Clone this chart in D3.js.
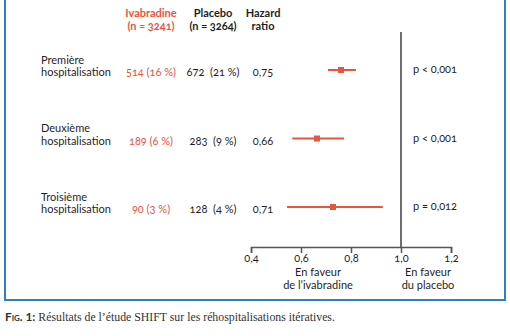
<!DOCTYPE html>
<html><head><meta charset="utf-8">
<script src="https://cdn.jsdelivr.net/npm/d3@7"></script>
<style>
body{margin:0;background:#fff;}
svg{display:block;}
text{font-family:Lato,"Noto Sans",sans-serif;font-variant-numeric:oldstyle-nums;}
</style></head>
<body>
<svg id="c" width="510" height="336"></svg>
<script>
const categories = [["Première","hospitalisation"],["Deuxième","hospitalisation"],["Troisième","hospitalisation"]];
const ivabradine = ["514 (16 %)","189 (6 %)","90 (3 %)"];
const placebo = ["672  (21 %)","283  (9 %)","128  (4 %)"];
const hrLabels = ["0,75","0,66","0,71"];
const hr = [0.76, 0.664, 0.728];
const ciLow = [0.708, 0.565, 0.544];
const ciHigh = [0.82, 0.772, 0.927];
const pValues = ["p < 0,001","p < 0,001","p = 0,012"];
const tickValues = [0.4, 0.6, 0.8, 1.0, 1.2];
const headers = [
  {lines:["Ivabradine","(n = 3241)"], col:"iva"},
  {lines:["Placebo","(n = 3264)"], col:"pla"},
  {lines:["Hazard","ratio"], col:"hr"}
];

const RED = "#e8543d", DARK = "#1f1f1f", BLUE = "#2f80c3";
const FS = 11;
const svg = d3.select("#c");
const x = d3.scaleLinear().domain([0.4,1.2]).range([251,451]);
const rows = d3.range(categories.length);
const y = d3.scalePoint().domain(rows).range([70,207]);
const colX = {iva:151, pla:213, hr:263};
const axisY = 247;

// frame
svg.append("path").attr("d","M5,0V300H505V0").attr("fill","none").attr("stroke",BLUE).attr("stroke-width",2);

// headers
headers.forEach(h=>{
  h.lines.forEach((l,i)=>{
    svg.append("text").attr("x",colX[h.col]).attr("y",17+i*13).attr("text-anchor","middle")
      .attr("font-size",FS).attr("font-weight","bold").attr("fill",h.col==="iva"?RED:DARK).text(l);
  });
});

// rows
rows.forEach(i=>{
  const cy = y(i);
  svg.append("text").attr("x",41).attr("y",cy-6.5).attr("font-size",FS).attr("fill",DARK).text(categories[i][0]);
  svg.append("text").attr("x",41).attr("y",cy+6).attr("font-size",FS).attr("fill",DARK).text(categories[i][1]);
  svg.append("text").attr("x",colX.iva).attr("y",cy+6).attr("text-anchor","middle").attr("font-size",FS).attr("fill",RED).text(ivabradine[i]);
  svg.append("text").attr("x",colX.pla).attr("y",cy+6).attr("text-anchor","middle").attr("font-size",FS).attr("fill",DARK).style("white-space","pre").text(placebo[i]);
  svg.append("text").attr("x",colX.hr).attr("y",cy+6).attr("text-anchor","middle").attr("font-size",FS).attr("fill",DARK).text(hrLabels[i]);
  svg.append("text").attr("x",413).attr("y",cy+3).attr("font-size",FS).attr("fill",DARK).text(pValues[i]);
  svg.append("line").attr("x1",x(ciLow[i])).attr("x2",x(ciHigh[i])).attr("y1",cy).attr("y2",cy)
    .attr("stroke",RED).attr("stroke-width",2);
  svg.append("rect").attr("x",x(hr[i])-3).attr("y",cy-3).attr("width",6).attr("height",6).attr("fill",RED);
});

// reference line
svg.append("line").attr("x1",x(1)).attr("x2",x(1)).attr("y1",32).attr("y2",axisY)
  .attr("stroke","#6e6e6e").attr("stroke-width",2);

// axis
const loc = d3.formatLocale({decimal:",",thousands:" ",grouping:[3],currency:["","€"]});
const ax = svg.append("g").attr("transform",`translate(0,${axisY})`)
  .call(d3.axisBottom(x).tickValues(tickValues).tickSize(6).tickFormat(loc.format(".1f")));
ax.select(".domain").attr("stroke","#555").attr("stroke-width",1.5);
ax.selectAll(".tick line").attr("stroke","#555").attr("stroke-width",1.5);
ax.selectAll(".tick text").attr("font-family","Lato, sans-serif").attr("font-size",FS).attr("fill",DARK)
  .attr("y",15).attr("dy",0);

// favour labels
[["En faveur","de l’ivabradine",318],["En faveur","du placebo",428]].forEach(f=>{
  svg.append("text").attr("x",f[2]).attr("y",276).attr("text-anchor","middle").attr("font-size",FS).attr("fill",DARK).text(f[0]);
  svg.append("text").attr("x",f[2]).attr("y",289).attr("text-anchor","middle").attr("font-size",FS).attr("fill",DARK).text(f[1]);
});

// caption
const cap = svg.append("text").attr("x",5).attr("y",321).attr("font-size",11.8).attr("fill","#333");
cap.append("tspan").attr("font-weight","bold").attr("font-family","Lato, sans-serif").style("font-variant","small-caps").text("Fig. 1: ");
cap.append("tspan").attr("font-family","Liberation Serif, serif").text("Résultats de l’étude SHIFT sur les réhospitalisations itératives.");
</script>
</body></html>
